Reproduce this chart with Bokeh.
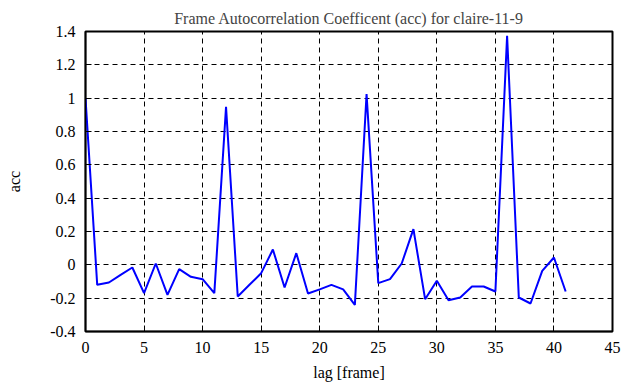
from bokeh.plotting import figure
from bokeh.models import FixedTicker, Range1d
from bokeh.embed import file_html
from bokeh.resources import INLINE

lags = list(range(42))
acc = [1.0, -0.12, -0.106, -0.06, -0.016, -0.17, 0.008, -0.18, -0.026, -0.072,
       -0.086, -0.17, 0.948, -0.19, -0.12, -0.05, 0.092, -0.136, 0.07, -0.172,
       -0.147, -0.12, -0.147, -0.24, 1.024, -0.11, -0.086, 0.008, 0.214, -0.206,
       -0.096, -0.212, -0.196, -0.13, -0.13, -0.16, 1.374, -0.196, -0.232, -0.036,
       0.044, -0.16]

x_ticks = [0, 5, 10, 15, 20, 25, 30, 35, 40, 45]
y_ticks = [-0.4, -0.2, 0, 0.2, 0.4, 0.6, 0.8, 1.0, 1.2, 1.4]
y_tick_labels = ["-0.4", "-0.2", "0", "0.2", "0.4", "0.6", "0.8", "1", "1.2", "1.4"]

FONT = "Liberation Serif"

p = figure(width=630, height=387, output_backend="svg", toolbar_location=None,
           x_range=Range1d(0, 45), y_range=Range1d(-0.4, 1.4),
           min_border_left=85, min_border_right=18, min_border_top=31, min_border_bottom=56)

p.title.text = "Frame Autocorrelation Coefficent (acc) for claire-11-9"
p.title.align = "center"
p.title.text_font = FONT
p.title.text_font_size = "16px"
p.title.text_font_style = "normal"
p.title.offset = 0

p.line(lags, acc, line_color="#0000FF", line_width=2)

p.xaxis.ticker = FixedTicker(ticks=x_ticks)
p.yaxis.ticker = FixedTicker(ticks=y_ticks)
p.yaxis.major_label_overrides = {t: l for t, l in zip(y_ticks, y_tick_labels)}

for ax in (p.xaxis[0], p.yaxis[0]):
    ax.major_label_text_font = FONT
    ax.major_label_text_font_size = "16px"
    ax.major_label_text_color = "black"
    ax.axis_label_text_font = FONT
    ax.axis_label_text_font_size = "16px"
    ax.axis_label_text_font_style = "normal"
    ax.axis_label_text_color = "black"
    ax.major_tick_in = 6
    ax.major_tick_out = 0
    ax.minor_tick_line_color = None
    ax.axis_line_color = "black"
    ax.axis_line_width = 1.5
    ax.major_tick_line_color = "black"

p.xaxis.axis_label = "lag [frame]"
p.yaxis.axis_label = "acc"
p.yaxis.major_label_orientation = "horizontal"
p.yaxis.major_label_standoff = 10
p.xaxis.major_label_standoff = 10
p.yaxis.axis_label_standoff = 24
p.xaxis.axis_label_standoff = 8

p.xgrid.grid_line_color = "black"
p.ygrid.grid_line_color = "black"
p.xgrid.grid_line_dash = "5 4"
p.ygrid.grid_line_dash = "5 4"
p.xgrid.grid_line_width = 1
p.ygrid.grid_line_width = 1

p.outline_line_color = "black"
p.outline_line_width = 2
p.outline_line_alpha = 1
p.background_fill_color = "white"
p.border_fill_color = "white"

open("out.html", "w").write(file_html(p, INLINE))
